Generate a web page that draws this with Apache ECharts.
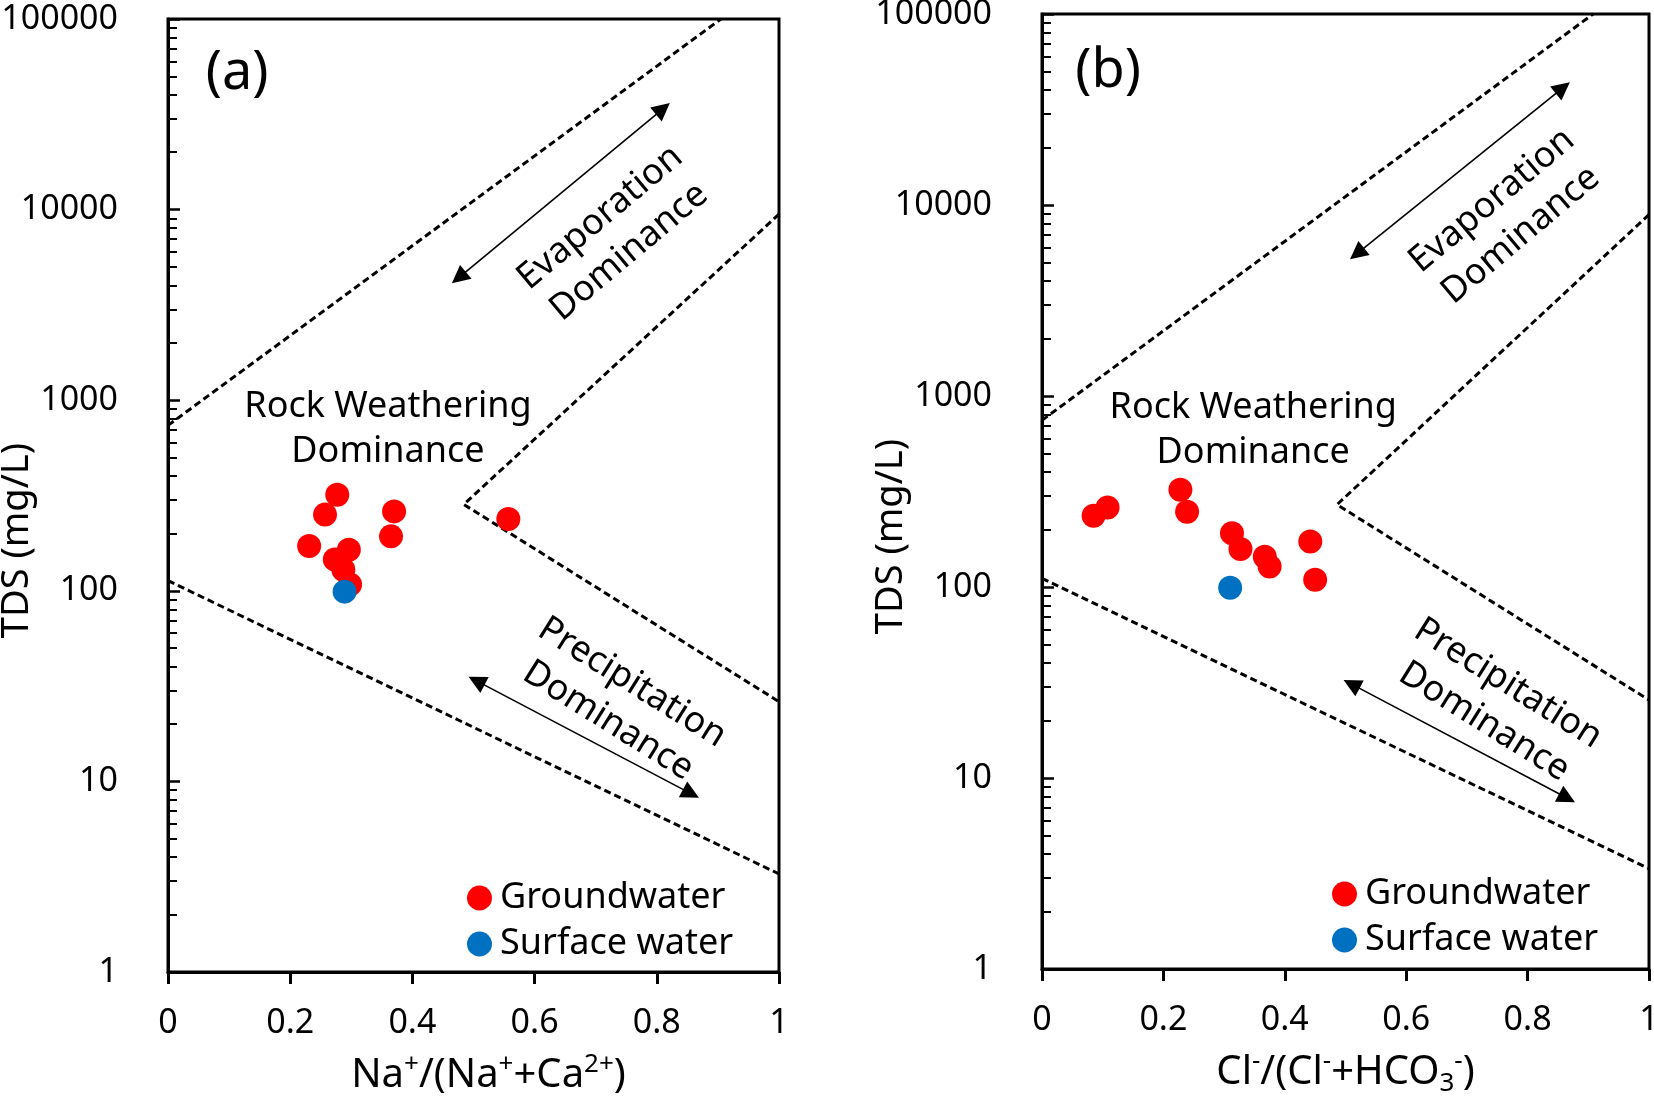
<!DOCTYPE html>
<html><head><meta charset="utf-8">
<script src="https://cdn.jsdelivr.net/npm/echarts@6/dist/echarts.min.js"></script>
<style>html,body{margin:0;padding:0;background:#fff}#c{width:1654px;height:1097px}</style>
</head><body><div id="c"></div>
<script>
// ---- tick labels ----
const xTicks = [0, 0.2, 0.4, 0.6, 0.8, 1];
const yTicks = [1, 10, 100, 1000, 10000, 100000];
const seriesNames = ['Groundwater', 'Surface water'];

// ---- panel (a): Na+/(Na+ + Ca2+) vs TDS ----
const gwA = [[0.277,319],[0.257,251],[0.231,172],[0.370,261],[0.365,193],[0.296,164],[0.273,146],[0.287,129],[0.298,108],[0.557,238]];
const swA = [[0.289,99]];
// ---- panel (b): Cl-/(Cl- + HCO3-) vs TDS ----
const gwB = [[0.085,236],[0.108,261],[0.228,323],[0.239,248],[0.313,191],[0.327,158],[0.367,144],[0.375,128],[0.442,173],[0.450,109]];
const swB = [[0.310,99]];

// ---- Gibbs boundary lines ----
const upperA = [[0,738],[0.905,100000]];
const innerA = [[1,9460],[0.484,284],[1,26.2]];
const lowerA = [[0,113],[1,3.27]];
const upperB = [[0,746],[0.908,100000]];
const innerB = [[1,8900],[0.486,270],[1,25.6]];
const lowerB = [[0,111],[1,3.35]];

// ---- arrows ----
const evapArrowA = [[0.476,4400],[0.810,33800]];
const precArrowA = [[0.505,33.7],[0.856,8.63]];
const evapArrowB = [[0.519,5570],[0.858,41000]];
const precArrowB = [[0.510,31],[0.865,7.86]];

// ---- annotation anchors (data coords) and texts ----
const panelLabels = ['(a)', '(b)'];
const panelLabelPos = [[0.113,51600],[0.109,49700]];
const rockText = 'Rock Weathering\nDominance';
const rockPos = [[0.360,708],[0.348,665]];
const evapText = 'Evaporation\nDominance';
const evapPos = [[0.731,7380],[0.765,8560]];
const precText = 'Precipitation\nDominance';
const precPos = [[0.740,26.2],[0.748,24.8]];

const FONT = '"Noto Sans", "Open Sans", sans-serif';
const TXT = '#000';

const xNames = [
  '{m|Na}{sup|+}{m|/(Na}{sup|+}{m|+Ca}{sup|2+}{m|)}',
  '{m|Cl}{sup|-}{m|/(Cl}{sup|-}{m|+HCO}{sub|3}{sup|-}{m|)}'
];
const xNamePad = [[0, 0, 0, 30], [0, 0, 0, 0]];
const richName = {
  m: {fontSize: 40, lineHeight: 48, fontFamily: FONT, color: TXT},
  sup: {fontSize: 26, lineHeight: 27, verticalAlign: 'top', fontFamily: FONT, color: TXT},
  sub: {fontSize: 26, lineHeight: 27, verticalAlign: 'bottom', fontFamily: FONT, color: TXT}
};

function xAxisFor(i) {
  return {
    type: 'value', gridIndex: i, min: 0, max: 1, interval: 0.2,
    axisLine: {show: true, onZero: false, lineStyle: {color: '#000', width: 3}},
    axisTick: {show: true, inside: false, length: 12, lineStyle: {color: '#000', width: 3}},
    axisLabel: {fontSize: 34, margin: 34, color: TXT, fontFamily: FONT,
      formatter: v => { const t = xTicks.find(k => Math.abs(k - v) < 1e-9); return t === undefined ? '' : String(t); }},
    splitLine: {show: false},
    name: xNames[i], nameLocation: 'middle', nameGap: 80, nameMoveOverlap: false,
    nameTextStyle: {rich: richName, fontSize: 40, fontFamily: FONT, color: TXT, padding: xNamePad[i]}
  };
}
function yAxisFor(i) {
  return {
    type: 'log', gridIndex: i, logBase: 10, min: yTicks[0], max: yTicks[yTicks.length - 1], splitNumber: 5,
    axisLine: {show: true, onZero: false, lineStyle: {color: '#000', width: 3}},
    axisTick: {show: true, inside: true, length: 12, lineStyle: {color: '#000', width: 2.5}},
    minorTick: {show: true, splitNumber: 9, length: 9, lineStyle: {color: '#000', width: 2}},
    axisLabel: {fontSize: 34, margin: 50, color: TXT, fontFamily: FONT,
      formatter: v => String(Math.round(v))},
    splitLine: {show: false}, minorSplitLine: {show: false},
    name: 'TDS (mg/L)', nameLocation: 'middle', nameGap: 132, nameRotate: 90, nameMoveOverlap: false,
    nameTextStyle: {fontSize: 38, fontFamily: FONT, color: TXT, padding: [0, 90, 0, 0]}
  };
}

function boundary(i, data) {
  return {type: 'line', xAxisIndex: i, yAxisIndex: i, data: data, showSymbol: false, symbol: 'none',
    silent: true, z: 3, lineStyle: {color: '#000', width: 3, type: [7, 4]}};
}
function arrow(i, coords) {
  return {type: 'lines', coordinateSystem: 'cartesian2d', xAxisIndex: i, yAxisIndex: i, silent: true, z: 3,
    symbol: ['triangle', 'triangle'], symbolSize: 18,
    lineStyle: {color: '#000', width: 1.6, opacity: 1, curveness: 0},
    data: [{coords: coords}]};
}
function note(i, pos, text, rotate, size) {
  return {type: 'scatter', xAxisIndex: i, yAxisIndex: i, silent: true, z: 5,
    symbol: 'circle', symbolSize: 1, itemStyle: {color: '#fff', opacity: 1},
    data: [pos],
    label: {show: true, position: 'inside', formatter: text, rotate: rotate, opacity: 1,
      textBorderWidth: 0, textShadowBlur: 0,
      fontSize: size, lineHeight: Math.round(size * 1.25), color: TXT, fontFamily: FONT, align: 'center', verticalAlign: 'middle'}};
}
function points(i, name, data, color) {
  return {type: 'scatter', name: name, xAxisIndex: i, yAxisIndex: i, data: data, z: 6,
    symbol: 'circle', symbolSize: 24, itemStyle: {color: color, opacity: 1}};
}

const gw = [gwA, gwB], sw = [swA, swB];
const up = [upperA, upperB], inn = [innerA, innerB], low = [lowerA, lowerB];
const ev = [evapArrowA, evapArrowB], pr = [precArrowA, precArrowB];

const series = [];
for (let i = 0; i < 2; i++) {
  series.push(boundary(i, up[i]), boundary(i, inn[i]), boundary(i, low[i]));
  series.push(arrow(i, ev[i]), arrow(i, pr[i]));
  series.push(note(i, panelLabelPos[i], panelLabels[i], 0, 54));
  series.push(note(i, rockPos[i], rockText, 0, 36));
  series.push(note(i, evapPos[i], evapText, 40, 36));
  series.push(note(i, precPos[i], precText, -32, 36));
  series.push(points(i, seriesNames[0], gw[i], '#ff0000'));
  series.push(points(i, seriesNames[1], sw[i], '#0070c0'));
}

function legendAt(left, top) {
  return {left: left, top: top, orient: 'vertical', padding: 0, itemWidth: 25, itemHeight: 25, itemGap: 6,
    icon: 'circle', selectedMode: false, data: seriesNames,
    textStyle: {fontSize: 36, lineHeight: 40, fontFamily: FONT, color: TXT, padding: [0, 0, 0, 3]}};
}

const chart = echarts.init(document.getElementById('c'), null, {renderer: 'canvas'});
chart.setOption({
  backgroundColor: '#fff',
  animation: false,
  grid: [
    {left: 168, top: 19, width: 611, height: 953, show: true, borderColor: '#000', borderWidth: 3, backgroundColor: 'transparent', containLabel: false, outerBoundsMode: 'none'},
    {left: 1042, top: 14, width: 607, height: 955, show: true, borderColor: '#000', borderWidth: 3, backgroundColor: 'transparent', containLabel: false, outerBoundsMode: 'none'}
  ],
  xAxis: [xAxisFor(0), xAxisFor(1)],
  yAxis: [yAxisFor(0), yAxisFor(1)],
  legend: [legendAt(467, 878), legendAt(1332, 874)],
  series: series
});
</script>
</body></html>
